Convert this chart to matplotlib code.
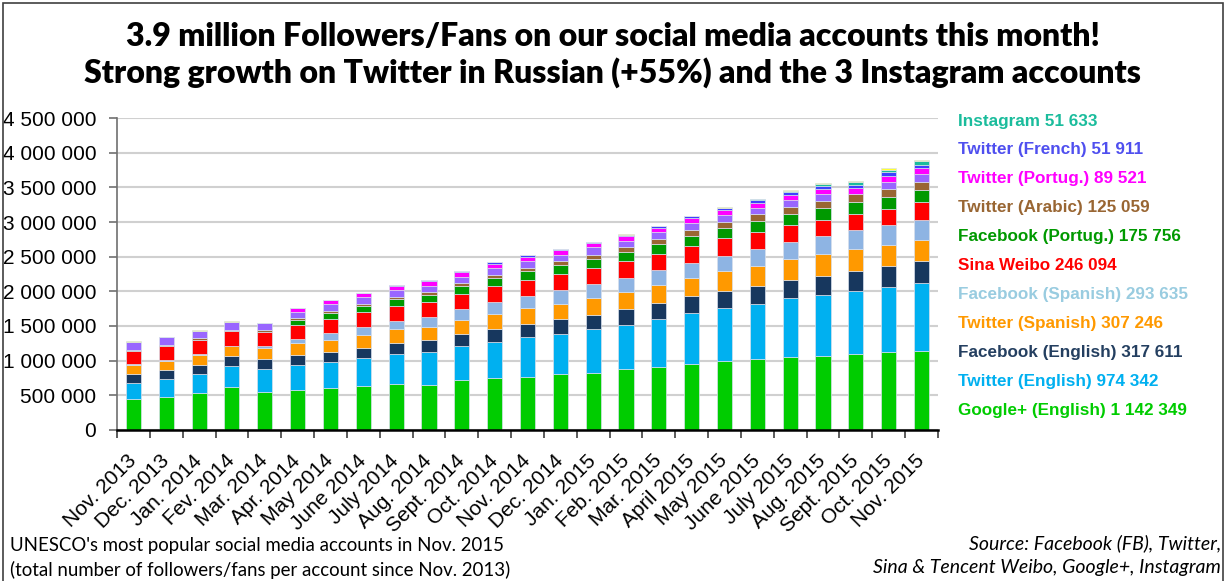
import numpy as np
import matplotlib.pyplot as plt
from matplotlib.patches import Rectangle
from matplotlib.ticker import FuncFormatter, FixedLocator

plt.rcParams['font.family'] = ['Liberation Sans', 'DejaVu Sans']

# months (Nov. 2013 -> Nov. 2015)
months = ["Nov. 2013", "Dec. 2013", "Jan. 2014", "Fev. 2014", "Mar. 2014", "Apr. 2014",
          "May 2014", "June 2014", "July 2014", "Aug. 2014", "Sept. 2014", "Oct. 2014",
          "Nov. 2014", "Dec. 2014", "Jan. 2015", "Feb. 2015", "Mar. 2015", "April 2015",
          "May 2015", "June 2015", "July 2015", "Aug. 2015", "Sept. 2015", "Oct. 2015",
          "Nov. 2015"]

# followers per account, in thousands
google_en = [441, 479, 527, 623, 551, 580, 609, 628, 657, 655, 714, 743, 767, 801, 829, 873,
             911, 958, 996, 1025, 1054, 1068, 1097, 1126, 1142.349]
twitter_en = [235, 254, 278, 302, 331, 360, 374, 412, 446, 472, 499, 532, 571, 589, 624, 647,
              690, 723, 762, 795, 843, 882, 910, 943, 974.342]
facebook_en = [134, 139, 139, 139, 144, 143, 148, 149, 158, 167, 172, 187, 191, 206, 211, 225,
               226, 245, 249, 264, 268, 273, 283, 300, 317.611]
twitter_es = [130, 130, 144, 144, 153, 168, 173, 187, 192, 197, 207, 216, 226, 226, 239, 249,
              258, 268, 283, 287, 297, 311, 321, 303, 307.246]
facebook_es = [5, 5, 5, 5, 29, 58, 91, 110, 115, 134, 148, 163, 177, 191, 197, 202,
               216, 220, 225, 240, 254, 259, 268, 278, 293.635]
sina_weibo = [196, 206, 211, 216, 206, 211, 211, 221, 225, 226, 226, 240, 235, 240, 239, 244,
              240, 240, 249, 244, 235, 239, 239, 239, 246.094]
facebook_pt = [0, 0, 0, 0, 0, 72, 77, 81, 96, 95, 110, 110, 120, 130, 130, 130,
               140, 139, 144, 153, 158, 163, 168, 173, 175.756]
twitter_ar = [19, 19, 19, 19, 24, 19, 29, 29, 29, 39, 43, 48, 52, 52, 62, 67,
              75, 91, 91, 101, 110, 110, 115, 115, 125.059]
tencent_weibo = [115, 110, 110, 115, 110, 96, 100, 96, 95, 96, 91, 100, 96, 96, 106, 96,
                 98, 95, 100, 96, 96, 96, 0, 105, 105]
twitter_pt = [0, 0, 0, 0, 0, 52, 58, 62, 58, 62, 67, 58, 63, 63, 57, 67,
              65, 72, 67, 76, 81, 81, 86, 86, 89.521]
twitter_fr = [0, 0, 0, 0, 0, 0, 0, 0, 14, 14, 10, 19, 19, 19, 15, 19,
              25, 29, 34, 34, 34, 43, 48, 48, 51.911]
instagram = [0, 0, 0, 0, 0, 0, 0, 0, 0, 0, 0, 0, 0, 0, 0, 0,
             0, 0, 0, 10, 24, 29, 35, 39, 51.633]
instagram_other = [4, 4, 4, 4, 0, 0, 0, 0, 0, 0, 0, 0, 3, 3, 3, 3,
                   3, 10, 14, 10, 14, 15, 15, 19, 14]

series = [google_en, twitter_en, facebook_en, twitter_es, facebook_es, sina_weibo,
          facebook_pt, twitter_ar, tencent_weibo, twitter_pt, twitter_fr, instagram,
          instagram_other]
bar_colors = ["#00CC00", "#00B0F0", "#17375E", "#FF9900", "#8EB4E3", "#FF0000",
              "#009900", "#996633", "#9966FF", "#FF00FF", "#3F3FFF", "#1ABC9C", "#FFFF33"]

# labels on the right, top to bottom
legend_labels = ["Instagram 51 633", "Twitter (French) 51 911", "Twitter (Portug.) 89 521",
                 "Twitter (Arabic) 125 059", "Facebook (Portug.) 175 756",
                 "Sina Weibo 246 094", "Facebook (Spanish) 293 635",
                 "Twitter (Spanish) 307 246", "Facebook (English) 317 611",
                 "Twitter (English) 974 342", "Google+ (English) 1 142 349"]
legend_colors = ["#1ABC9C", "#4F4FEF", "#FF00FF", "#996633", "#009900", "#FF0000",
                 "#99CCE0", "#FF9900", "#243F60", "#00B0F0", "#00CC00"]

fig = plt.figure(figsize=(12.25, 5.81), dpi=100)
ax = fig.add_axes([0.0955, 0.2599, 0.6702, 0.537])

x = np.arange(len(months))
bottom = np.zeros(len(months))
for vals, col in zip(series, bar_colors):
    v = np.array(vals) * 1000
    ax.bar(x, v, width=0.46, bottom=bottom, color=col, edgecolor="#D8E0EC",
           linewidth=0.5, zorder=3)
    bottom += v

ax.set_xlim(-0.5, 24.5)
ax.set_ylim(0, 4500000)
ax.set_yticks(np.arange(0, 4500001, 500000))
ax.yaxis.set_major_formatter(FuncFormatter(lambda v, p: f"{int(v):,}".replace(",", " ")))
ax.grid(axis="y", color="#D0D0D0", linewidth=1.5, zorder=0)

ax.set_xticks(x)
ax.set_xticklabels(months, rotation=45, ha="right", va="center", rotation_mode="anchor")
ax.xaxis.set_minor_locator(FixedLocator(np.arange(-0.5, 25, 1)))
ax.tick_params(axis="x", which="major", length=0, pad=20, labelsize=15)
ax.tick_params(axis="x", which="minor", length=6, width=1.2, color="#404040")
ax.tick_params(axis="y", length=6, width=1.2, color="#707070", pad=9, labelsize=15)

for s in ["top", "right"]:
    ax.spines[s].set_visible(False)
ax.spines["left"].set_color("#707070")
ax.spines["left"].set_linewidth(1.2)
ax.spines["bottom"].set_color("black")
ax.spines["bottom"].set_linewidth(1.8)
ax.spines["bottom"].set_zorder(4)

for i, (lab, col) in enumerate(zip(legend_labels, legend_colors)):
    fig.text(958 / 1225, 1 - (121 + i * 28.9) / 581, lab, color=col, fontsize=12.3,
             fontweight="bold", ha="left", va="center")

fig.text(0.5, 1 - 37 / 581, "3.9 million Followers/Fans on our social media accounts this month!",
         ha="center", va="center", fontsize=23, fontweight="heavy", family="Lato")
fig.text(0.5, 1 - 73 / 581, "Strong growth on Twitter in Russian (+55%) and the 3 Instagram accounts",
         ha="center", va="center", fontsize=23, fontweight="heavy", family="Lato")

fig.text(10 / 1225, 1 - 545 / 581, "UNESCO's most popular social media accounts in Nov. 2015",
         ha="left", va="center", fontsize=13.4, family="Lato")
fig.text(10 / 1225, 1 - 570 / 581, "(total number of followers/fans per account since Nov. 2013)",
         ha="left", va="center", fontsize=13.4, family="Lato")
fig.text(1221 / 1225, 1 - 543 / 581, "Source: Facebook (FB), Twitter,",
         ha="right", va="center", fontsize=14, style="italic", family="Lato")
fig.text(1221 / 1225, 1 - 568 / 581, "Sina & Tencent Weibo, Google+, Instagram",
         ha="right", va="center", fontsize=14, style="italic", family="Lato")

# outer frame
fig.patches.append(Rectangle((3 / 1225, -0.05), 1220 / 1225, 1.05 - 3 / 581,
                             transform=fig.transFigure, fill=False,
                             edgecolor="#404040", linewidth=1.2))

fig.savefig("out.png", dpi=100)
